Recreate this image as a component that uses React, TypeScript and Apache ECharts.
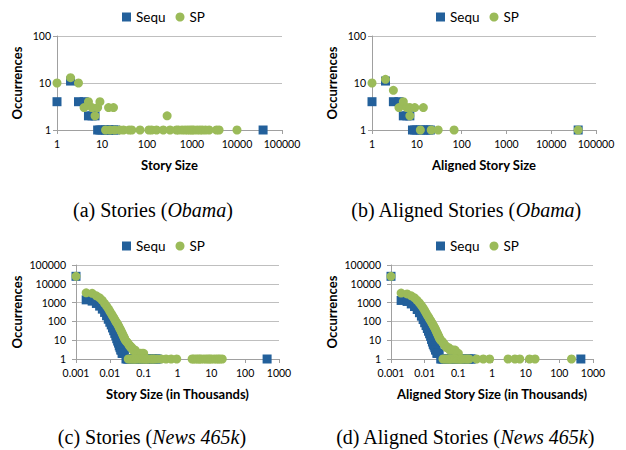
import React, { useEffect, useRef } from "react";
import * as echarts from "echarts";

// ---------- data ----------
// Panel (a): Stories (Obama)
const aSequ: number[][] = [
  [1, 4], [2, 11], [3, 4], [4, 4], [5, 2], [6, 2], [7, 2],
  [8, 1], [9, 1], [10, 1], [12, 1], [13, 1], [14, 1], [16, 1], [18, 1], [20, 1],
  [38000, 1],
];
const aSP: number[][] = [
  [1, 10], [2, 13], [3, 10], [4, 3], [5, 4], [6, 3], [8, 3], [9, 4], [7, 2], [14, 3], [18, 3],
  [12, 1], [15, 1], [19, 1], [25, 1], [30, 1], [40, 1], [46, 1], [70, 1], [110, 1], [127, 1],
  [163, 1], [230, 1], [325, 1], [450, 1], [500, 1], [600, 1], [700, 1], [800, 1], [900, 1],
  [1000, 1], [1100, 1], [1300, 1], [1500, 1], [1700, 1], [2000, 1], [2400, 1], [3500, 1],
  [4000, 1], [10000, 1], [280, 2],
];

// Panel (b): Aligned Stories (Obama)
const bSequ: number[][] = [
  [1, 4], [2, 11], [3, 4], [4, 4], [5, 2], [6, 2], [7, 2],
  [8, 1], [9, 1], [10, 1], [12, 1], [14, 1], [16, 1], [18, 1], [20, 1],
  [40000, 1],
];
const bSP: number[][] = [
  [1, 10], [2, 12], [3, 7], [4, 3], [5, 4], [6, 3], [7, 3], [9, 3], [14, 3], [7, 2],
  [12, 1], [21, 1], [30, 1], [68, 1], [40000, 1],
];

// Panel (c): Stories (News 465k), size in thousands
const cSequ: number[][] = [
  [0.001, 25000], [0.002, 1400], [0.003, 1200], [0.004, 900], [0.005, 650], [0.006, 450],
  [0.007, 300], [0.008, 200], [0.009, 130], [0.01, 90], [0.011, 65], [0.012, 45],
  [0.013, 32], [0.014, 23], [0.015, 17], [0.016, 12], [0.017, 9], [0.018, 7], [0.019, 5],
  [0.02, 4], [0.021, 3], [0.022, 3], [0.023, 2], [0.024, 2], [0.025, 2], [0.027, 2],
  [0.03, 1], [0.033, 1], [0.036, 1], [0.04, 1], [0.045, 1], [0.05, 1], [0.06, 1], [0.07, 1],
  [0.08, 1], [0.09, 1], [0.1, 1], [0.12, 1], [0.14, 1], [0.16, 1], [0.18, 1], [0.2, 1],
  [0.23, 1], [0.25, 1], [445, 1],
];
const cSP: number[][] = [
  [0.001, 25000], [0.002, 3300], [0.003, 3100], [0.004, 2300], [0.005, 1800], [0.006, 1300],
  [0.007, 900], [0.008, 650], [0.009, 480], [0.01, 350], [0.011, 260], [0.012, 200],
  [0.013, 160], [0.014, 125], [0.015, 100], [0.016, 85], [0.017, 70], [0.018, 58],
  [0.019, 48], [0.02, 40], [0.021, 34], [0.022, 28], [0.023, 24], [0.024, 20], [0.025, 17],
  [0.026, 15], [0.027, 13], [0.028, 11], [0.03, 9], [0.032, 8], [0.034, 7], [0.036, 6],
  [0.038, 5], [0.04, 5], [0.042, 4], [0.045, 4], [0.048, 3], [0.052, 3], [0.056, 3],
  [0.06, 2], [0.065, 2], [0.07, 2], [0.08, 2], [0.09, 2], [0.1, 2],
  [0.035, 1], [0.04, 1], [0.045, 1], [0.05, 1], [0.055, 1], [0.06, 1], [0.07, 1], [0.08, 1],
  [0.09, 1], [0.1, 1], [0.11, 1], [0.12, 1], [0.13, 1], [0.15, 1], [0.17, 1], [0.19, 1],
  [0.21, 1], [0.25, 1], [0.33, 1], [0.46, 1], [0.65, 1], [0.95, 1], [2.7, 1], [3, 1],
  [3.5, 1], [4, 1], [4.5, 1], [5, 1], [6, 1], [7, 1], [8, 1], [9, 1], [10, 1], [12, 1],
  [14, 1], [16, 1], [18, 1], [21, 1],
];

// Panel (d): Aligned Stories (News 465k), size in thousands
const dSequ: number[][] = [
  [0.001, 25000], [0.002, 1300], [0.003, 1150], [0.004, 850], [0.005, 620], [0.006, 430],
  [0.007, 290], [0.008, 190], [0.009, 125], [0.01, 85], [0.011, 60], [0.012, 42],
  [0.013, 30], [0.014, 22], [0.015, 16], [0.016, 11], [0.017, 8], [0.018, 6], [0.019, 5],
  [0.02, 4], [0.021, 3], [0.022, 3], [0.023, 2], [0.024, 2], [0.025, 2], [0.027, 2],
  [0.03, 1], [0.033, 1], [0.036, 1], [0.04, 1], [0.045, 1], [0.05, 1], [0.06, 1], [0.07, 1],
  [0.08, 1], [0.09, 1], [0.1, 1], [0.12, 1], [0.14, 1], [0.16, 1], [0.18, 1], [0.2, 1],
  [0.23, 1], [0.25, 1], [436, 1],
];
const dSP: number[][] = [
  [0.001, 25000], [0.002, 3200], [0.003, 2900], [0.004, 2300], [0.005, 1800], [0.006, 1300],
  [0.007, 950], [0.008, 700], [0.009, 520], [0.01, 380], [0.011, 280], [0.012, 210],
  [0.013, 170], [0.014, 135], [0.015, 110], [0.016, 90], [0.017, 75], [0.018, 62],
  [0.019, 52], [0.02, 44], [0.021, 37], [0.022, 31], [0.023, 26], [0.024, 22], [0.025, 19],
  [0.026, 16], [0.027, 14], [0.028, 12], [0.03, 10], [0.032, 9], [0.034, 8], [0.036, 7],
  [0.038, 6], [0.04, 5], [0.042, 5], [0.045, 4], [0.048, 4], [0.052, 4], [0.056, 3],
  [0.06, 3], [0.065, 3], [0.07, 3], [0.08, 3], [0.09, 2], [0.1, 2],
  [0.035, 1], [0.04, 1], [0.045, 1], [0.05, 1], [0.055, 1], [0.06, 1], [0.07, 1], [0.08, 1],
  [0.09, 1], [0.1, 1], [0.11, 1], [0.12, 1], [0.13, 1], [0.15, 1], [0.17, 1], [0.19, 1],
  [0.21, 1], [0.35, 1], [0.55, 1], [0.85, 1], [3, 1], [4.8, 1], [6.7, 1], [13, 1], [19, 1],
  [230, 1],
];

const seriesNames = ["Sequ", "SP"];
const xTitles = ["Story Size", "Aligned Story Size", "Story Size (in Thousands)", "Aligned Story Size (in Thousands)"];
const yTitle = "Occurrences";
const captionPrefix = ["(a) Stories (", "(b) Aligned Stories (", "(c) Stories (", "(d) Aligned Stories ("];
const captionItalic = ["Obama", "Obama", "News 465k", "News 465k"];
const xRanges = [[1, 100000], [1, 100000], [0.001, 1000], [0.001, 1000]];
const yRanges = [[1, 100], [1, 100], [1, 100000], [1, 100000]];

// ---------- layout / style ----------
const FONT = "Lato, 'Open Sans', sans-serif";
const SERIF = "'Liberation Serif', 'DejaVu Serif', serif";
const BLUE = "#23609B";
const GREEN = "#9BBB59";
const AXIS = "#A0A0A0";
const GRIDC = "#BFBFBF";

const grids = [
  { left: 57, top: 36, width: 225, height: 94 },
  { left: 372, top: 36, width: 224, height: 94 },
  { left: 76, top: 265, width: 203, height: 94 },
  { left: 391, top: 265, width: 202, height: 94 },
];
const yNameGaps = [34, 34, 53, 53];
const yLabelMargins = [6, 6, 10, 10];
const legendPos = [[117, 5], [431, 5], [117, 234], [431, 234]];
const captionPos = [[153, 210], [466, 210], [152, 437], [465, 437]];

const fmt = (v: number) => String(+Number(v).toPrecision(6));

export default function App() {
  const ref = useRef<HTMLDivElement>(null);
  useEffect(() => {
    if (!ref.current) return;
    const chart = echarts.init(ref.current, null, { renderer: "svg" });
    const data = [[aSequ, aSP], [bSequ, bSP], [cSequ, cSP], [dSequ, dSP]];
    const option: any = {
      animation: false,
      backgroundColor: "#fff",
      grid: grids.map((g) => ({ ...g, containLabel: false, outerBoundsMode: "none" })),
      legend: legendPos.map(([l, t]) => ({
        left: l,
        top: t,
        itemWidth: 9,
        itemHeight: 9,
        itemGap: 10,
        selectedMode: false,
        data: [
          { name: seriesNames[0], icon: "rect" },
          { name: seriesNames[1], icon: "circle" },
        ],
        textStyle: { fontFamily: FONT, fontSize: 13.5, color: "#000" },
      })),
      xAxis: xRanges.map((r, i) => ({
        type: "log",
        logBase: 10,
        gridIndex: i,
        min: r[0],
        max: r[1],
        name: xTitles[i],
        nameLocation: "middle",
        nameGap: 28,
        nameTextStyle: { fontFamily: FONT, fontSize: 13, fontWeight: "bold", color: "#000" },
        axisLine: { show: true, onZero: false, lineStyle: { color: AXIS } },
        axisTick: { show: true, length: 4, lineStyle: { color: AXIS } },
        axisLabel: { formatter: fmt, fontFamily: FONT, fontSize: 10.5, color: "#000", margin: 8 },
        splitLine: { show: false },
        minorTick: { show: false },
      })),
      yAxis: yRanges.map((r, i) => ({
        type: "log",
        logBase: 10,
        gridIndex: i,
        min: r[0],
        max: r[1],
        name: yTitle,
        nameLocation: "middle",
        nameGap: yNameGaps[i],
        nameTextStyle: { fontFamily: FONT, fontSize: 13, fontWeight: "bold", color: "#000" },
        axisLine: { show: true, onZero: false, lineStyle: { color: AXIS } },
        axisTick: { show: true, length: 4, lineStyle: { color: AXIS } },
        axisLabel: { formatter: fmt, fontFamily: FONT, fontSize: 10.5, color: "#000", margin: yLabelMargins[i] },
        splitLine: { show: true, lineStyle: { color: GRIDC, width: 1 } },
        minorTick: { show: false },
      })),
      series: data.flatMap(([sq, sp], i) => [
        {
          type: "scatter",
          name: seriesNames[0],
          xAxisIndex: i,
          yAxisIndex: i,
          data: sq,
          symbol: "rect",
          symbolSize: 9,
          itemStyle: { color: BLUE, opacity: 1 },
        },
        {
          type: "scatter",
          name: seriesNames[1],
          xAxisIndex: i,
          yAxisIndex: i,
          data: sp,
          symbol: "circle",
          symbolSize: 9,
          itemStyle: { color: GREEN, opacity: 1 },
        },
      ]),
      graphic: captionPos.map(([x, y], i) => ({
        type: "text",
        x,
        y,
        style: {
          text: `{n|${captionPrefix[i]}}{i|${captionItalic[i]}}{n|)}`,
          align: "center",
          verticalAlign: "middle",
          rich: {
            n: { fontFamily: SERIF, fontSize: 20, fill: "#000", color: "#000" },
            i: { fontFamily: SERIF, fontSize: 20, fontStyle: "italic", fill: "#000", color: "#000" },
          },
        },
      })),
    };
    chart.setOption(option);
    return () => chart.dispose();
  }, []);
  return (
    <div
      ref={ref}
      style={{ position: "fixed", left: 0, top: 0, width: 626, height: 450, background: "#fff" }}
    />
  );
}
